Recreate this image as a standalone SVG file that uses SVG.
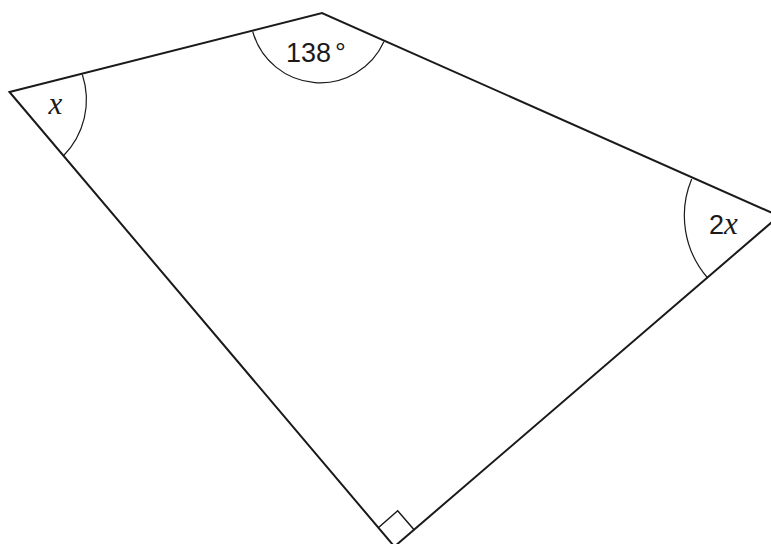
<svg xmlns="http://www.w3.org/2000/svg" width="771" height="544" viewBox="0 0 771 544">
<style>
.edge{fill:none;stroke:#1a1a1a;stroke-width:2;stroke-linejoin:miter}
.arc{fill:none;stroke:#1a1a1a;stroke-width:1.2}
.sans{font-family:"Liberation Sans",Arial,sans-serif;font-size:27px;fill:#1a1a1a}
.var{font-family:"Liberation Serif","Times New Roman",serif;font-style:italic;font-size:31px;fill:#1a1a1a}
</style>
<rect width="771" height="544" fill="#fff"/>
<g id="shape">
<polygon class="edge" points="9.5,92 322,13 779,216 394.4,546.6"/>
</g>
<g id="angle-A">
<path class="arc" d="M82.3,74.5 A80,80 0 0 1 63.3,156"/>
<text class="var" x="55.5" y="113.5" text-anchor="middle">x</text>
</g>
<g id="angle-B">
<path class="arc" d="M252.7,31.5 A70,70 0 0 0 384,41.5"/>
<text class="sans" x="286" y="62">138<tspan dx="4">°</tspan></text>
</g>
<g id="angle-C">
<path class="arc" d="M691.7,179 A95,95 0 0 0 707.7,278"/>
<text x="709" y="233.5"><tspan class="sans">2</tspan><tspan class="var">x</tspan></text>
</g>
<g id="angle-D">
<polyline class="arc" points="378.3,527.7 397.7,510.7 414.3,530" style="stroke-width:1.5"/>
</g>
</svg>
